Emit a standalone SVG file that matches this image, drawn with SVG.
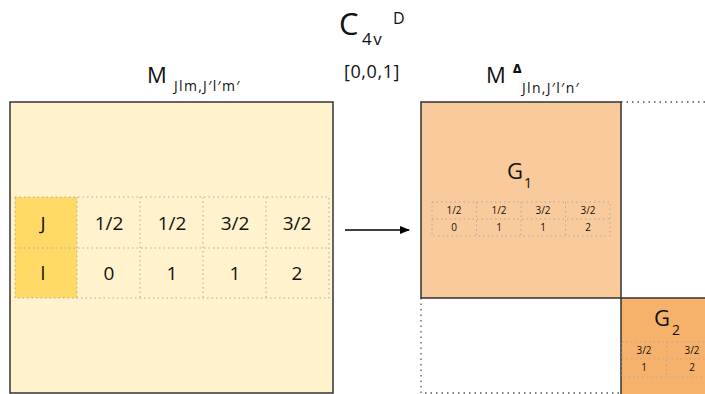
<svg xmlns="http://www.w3.org/2000/svg" width="705" height="394" viewBox="0 0 705 394">
<style>
text{font-family:"Open Sans",Lato,"Liberation Sans",sans-serif;fill:#111}
.grid{fill:none;stroke:#aaa;stroke-width:1;stroke-dasharray:1.5 3}
.big{font-size:19px;text-anchor:middle}
.sm{font-size:10px;text-anchor:middle}
.box{stroke:#333;stroke-width:1.5}
.sub{font-size:14px;letter-spacing:1.3px}
</style>
<defs>
<marker id="ah" markerWidth="10" markerHeight="8" refX="9" refY="4" orient="auto" markerUnits="userSpaceOnUse">
<path d="M0,0 L10,4 L0,8 Z" fill="#000"/>
</marker>
</defs>
<rect width="705" height="394" fill="#fff"/>

<g id="title">
<text x="339" y="35" font-size="31">C</text>
<text x="362" y="45" font-size="17" letter-spacing="1.5">4v</text>
<text x="393" y="24" font-size="16">D</text>
<text x="372" y="78" font-size="18" letter-spacing="0.6" text-anchor="middle">[0,0,1]</text>
</g>

<g id="left-matrix">
<text x="147" y="83" font-size="22">M</text>
<text class="sub" x="174" y="91">Jlm,J′l′m′</text>
<rect class="box" x="10" y="102" width="323" height="291" fill="#fff2cc"/>
<rect x="15" y="197" width="62" height="101" fill="#ffd966"/>
<rect class="grid" x="15" y="197" width="314" height="101"/>
<line class="grid" x1="15" y1="248" x2="329" y2="248"/>
<line class="grid" x1="77" y1="197" x2="77" y2="298"/>
<line class="grid" x1="140" y1="197" x2="140" y2="298"/>
<line class="grid" x1="203" y1="197" x2="203" y2="298"/>
<line class="grid" x1="266" y1="197" x2="266" y2="298"/>
<text class="big" x="43" y="230">J</text>
<text class="big" x="109" y="230">1/2</text>
<text class="big" x="172" y="230">1/2</text>
<text class="big" x="235" y="230">3/2</text>
<text class="big" x="297" y="230">3/2</text>
<text class="big" x="43" y="280">l</text>
<text class="big" x="109" y="280">0</text>
<text class="big" x="172" y="280">1</text>
<text class="big" x="235" y="280">1</text>
<text class="big" x="297" y="280">2</text>
</g>

<g id="connectors">
<line x1="345" y1="230" x2="409" y2="230" stroke="#000" stroke-width="1.3" marker-end="url(#ah)"/>
</g>

<g id="right-matrix">
<text x="486" y="83" font-size="22">M</text>
<text x="513" y="73" font-size="12" font-weight="900">Δ</text>
<text class="sub" x="522" y="93">Jln,J′l′n′</text>
<path d="M621,102 H705 M421,298 V393 H621" fill="none" stroke="#555" stroke-width="1.3" stroke-dasharray="1.5 4"/>
</g>

<g id="G1">
<rect class="box" x="421" y="102" width="200" height="196" fill="#f9cb9c"/>
<text x="507" y="179" font-size="22">G</text>
<text x="524" y="188" font-size="14">1</text>
<rect class="grid" x="432" y="202" width="178" height="34"/>
<line class="grid" x1="432" y1="219" x2="610" y2="219"/>
<line class="grid" x1="476.5" y1="202" x2="476.5" y2="236"/>
<line class="grid" x1="521" y1="202" x2="521" y2="236"/>
<line class="grid" x1="565.5" y1="202" x2="565.5" y2="236"/>
<text class="sm" x="454" y="214">1/2</text>
<text class="sm" x="499" y="214">1/2</text>
<text class="sm" x="543" y="214">3/2</text>
<text class="sm" x="588" y="214">3/2</text>
<text class="sm" x="454" y="231">0</text>
<text class="sm" x="499" y="231">1</text>
<text class="sm" x="543" y="231">1</text>
<text class="sm" x="588" y="231">2</text>
</g>

<g id="G2">
<rect class="box" x="621" y="298" width="90" height="100" fill="#f6b26b"/>
<text x="654" y="326" font-size="22">G</text>
<text x="672" y="335" font-size="14">2</text>
<rect class="grid" x="622" y="342" width="90" height="35"/>
<line class="grid" x1="622" y1="359" x2="705" y2="359"/>
<line class="grid" x1="666.5" y1="342" x2="666.5" y2="377"/>
<text class="sm" x="644" y="354">3/2</text>
<text class="sm" x="692" y="354">3/2</text>
<text class="sm" x="644" y="371">1</text>
<text class="sm" x="692" y="371">2</text>
</g>
</svg>
